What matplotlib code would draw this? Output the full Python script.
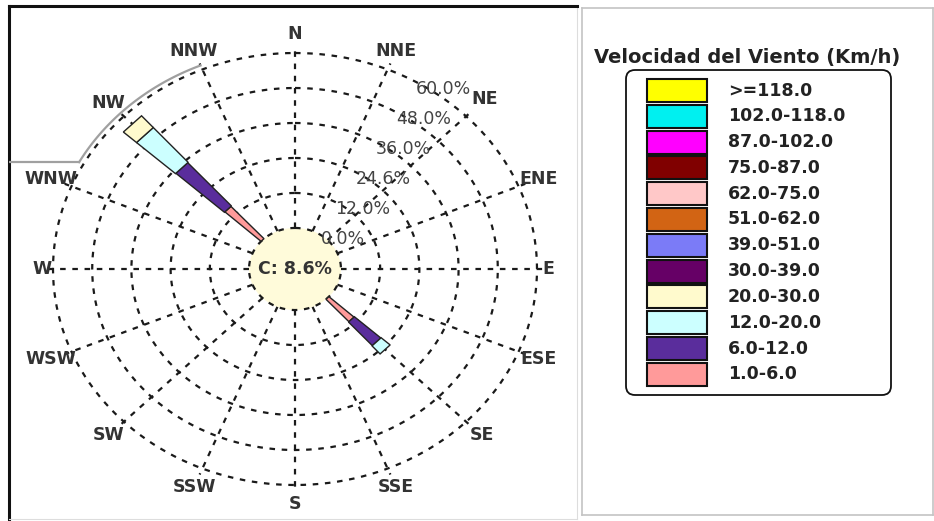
import numpy as np
import matplotlib.pyplot as plt
from matplotlib.patches import Polygon, Ellipse, Rectangle, FancyBboxPatch

plt.rcParams['font.family'] = ['DejaVu Sans']

# wind directions (compass order, clockwise from N)
directions = ['N', 'NNE', 'NE', 'ENE', 'E', 'ESE', 'SE', 'SSE',
              'S', 'SSW', 'SW', 'WSW', 'W', 'WNW', 'NW', 'NNW']

# speed classes as listed in the legend (top to bottom)
speed_classes = ['>=118.0', '102.0-118.0', '87.0-102.0', '75.0-87.0',
                 '62.0-75.0', '51.0-62.0', '39.0-51.0', '30.0-39.0',
                 '20.0-30.0', '12.0-20.0', '6.0-12.0', '1.0-6.0']
class_colors = ['#FFFF00', '#00F0F0', '#FF00FF', '#800000',
                '#FFC8C8', '#D26414', '#7B7BF7', '#660066',
                '#FFFACD', '#CCFFFF', '#5A2D9C', '#FF9A9A']

# frequencies (%) per direction that has data, stacked from calm outward
bar_dirs = ['NW', 'SE']
freq_1_6 = [15.0, 10.4]
freq_6_12 = [20.0, 10.9]
freq_12_20 = [16.0, 3.7]
freq_20_30 = [5.4, 0.0]
bar_classes = ['1.0-6.0', '6.0-12.0', '12.0-20.0', '20.0-30.0']

calm_pct = 8.6
ring_ticks = [0, 12, 24, 36, 48, 60]
ring_labels = ['0.0%', '12.0%', '24.6%', '36.0%', '48.0%', '60.0%']

W, H = 934, 521
fig = plt.figure(figsize=(W / 100, H / 100), dpi=100)

# ---- wind rose panel (pixel layout of the screenshot) ----
cx, cy = 295, 269          # centre of the rose
sx, sy = 242, 216          # outer ring half-width / half-height
left, right, top, bottom = 9, 577, 6, 519
ax = fig.add_axes([left / W, (H - bottom) / H, (right - left) / W, (bottom - top) / H])
ax.set_xlim((left - cx) / sx, (right - cx) / sx)
ax.set_ylim((cy - bottom) / sy, (cy - top) / sy)
ax.set_xticks([])
ax.set_yticks([])
for s in ['left', 'top']:
    ax.spines[s].set_linewidth(2.2)
    ax.spines[s].set_color('#111111')
for s in ['right', 'bottom']:
    ax.spines[s].set_linewidth(0.8)
    ax.spines[s].set_color('#dddddd')

r0 = 0.19  # radius of calm circle (0% ring)


def rad(v):
    return r0 + (1 - r0) * np.asarray(v) / ring_ticks[-1]


def xy(r, compass):
    a = np.deg2rad(90 - np.asarray(compass))
    return r * np.cos(a), r * np.sin(a)


# calm circle
ax.add_patch(Ellipse((0, 0), 2 * r0, 2 * r0, facecolor='#FFFBDA', edgecolor='none', zorder=1))

# rings
dash = (0, (2.5, 3))
t = np.linspace(0, 360, 721)
for v in ring_ticks:
    x, y = xy(rad(v), t)
    ax.plot(x, y, ls=dash, color='#1a1a1a', lw=1.6, zorder=2)

# spokes + direction labels
for i, d in enumerate(directions):
    c = i * 22.5
    x, y = xy(np.array([r0, 1.03]), c)
    ax.plot(x, y, ls=dash, color='#1a1a1a', lw=1.6, zorder=2)
    lr = 1.045 if d in ('E', 'W') else 1.09
    if d == 'NE':
        lr = 1.11
    lx, ly = xy(lr, c)
    ax.text(lx, ly, d, ha='center', va='center', fontsize=12.5,
            weight='bold', color='#333333', zorder=5)

# ring labels
for v, lab in zip(ring_ticks, ring_labels):
    px, py = xy(rad(v), 31)
    ax.annotate(lab, (px, py), xytext=(24, -5), textcoords='offset pixels',
                ha='center', va='center', fontsize=12.5, color='#444444', zorder=5)

# grey outline arc (WNW -> NNW)
ga = np.linspace(299, 337.5, 60)
gx, gy = xy(1.02, ga)
ax.plot(gx, gy, color='#a0a0a0', lw=1.6, zorder=3)
ax.plot([ax.get_xlim()[0], gx[0]], [gy[0], gy[0]], color='#a0a0a0', lw=1.6, zorder=3)

# stacked wedges
stack = [freq_1_6, freq_6_12, freq_12_20, freq_20_30]
half_w = [2.6, 3.0, 3.2, 3.2]
for j, d in enumerate(bar_dirs):
    c = directions.index(d) * 22.5
    base = 0.0
    for k, cls in enumerate(bar_classes):
        val = stack[k][j]
        if val <= 0:
            continue
        ra, rb = rad(base), rad(base + val)
        hw = half_w[k]
        pts = [xy(ra, c - hw), xy(rb, c - hw), xy(rb, c + hw), xy(ra, c + hw)]
        col = class_colors[speed_classes.index(cls)]
        ax.add_patch(Polygon(pts, closed=True, facecolor=col, edgecolor='#222222',
                             lw=1.0, zorder=4))
        base += val

ax.text(0, 0, 'C: %.1f%%' % calm_pct, ha='center', va='center', fontsize=12.5,
        weight='bold', color='#333333', zorder=6)

# ---- legend panel ----
lx0, lx1, ly0, ly1 = 582, 933, 8, 515
lax = fig.add_axes([lx0 / W, (H - ly1) / H, (lx1 - lx0) / W, (ly1 - ly0) / H])
lax.set_xlim(lx0, lx1)
lax.set_ylim(ly1, ly0)
lax.set_xticks([])
lax.set_yticks([])
for s in lax.spines.values():
    s.set_color('#c4c4c4')
    s.set_linewidth(1.2)

lax.text(747, 57, 'Velocidad del Viento (Km/h)', ha='center', va='center',
         fontsize=14, weight='bold', color='#222222')
lax.add_patch(FancyBboxPatch((629, 73), 259, 319,
                             boxstyle='round,pad=3,rounding_size=9',
                             facecolor='none', edgecolor='#111111', lw=1.3))
pitch = 25.8
for i, (lab, col) in enumerate(zip(speed_classes, class_colors)):
    y0 = 79 + i * pitch
    lax.add_patch(Rectangle((647, y0), 60, 23, facecolor=col, edgecolor='#111111', lw=1.5))
    lax.text(728, y0 + 11.5, lab, ha='left', va='center', fontsize=12.5,
             weight='bold', color='#222222')

fig.savefig('out.png', dpi=100)
